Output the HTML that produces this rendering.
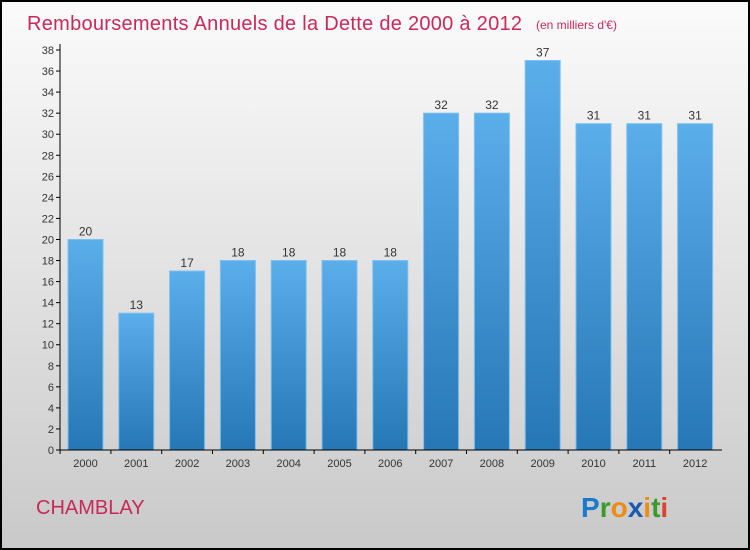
<!DOCTYPE html>
<html><head><meta charset="utf-8"><style>
body{margin:0;width:750px;height:550px;overflow:hidden}
svg{display:block}
text{font-family:"Liberation Sans",sans-serif}
</style></head><body>
<svg id="c" width="750" height="550" xmlns="http://www.w3.org/2000/svg">
<defs>
<linearGradient id="bg" x1="0" y1="0" x2="0" y2="1"><stop offset="0" stop-color="#fbfbfb"/><stop offset="1" stop-color="#c9c9c9"/></linearGradient>
<linearGradient id="bar" x1="0" y1="0" x2="0" y2="1"><stop offset="0" stop-color="#5aaeea"/><stop offset="1" stop-color="#2677b5"/></linearGradient>
</defs>
<rect x="1" y="1" width="748" height="548" fill="url(#bg)" stroke="#000" stroke-width="2"/>
<text x="27" y="30" font-size="20" fill="#c8285a" textLength="495">Remboursements Annuels de la Dette de 2000 à 2012</text>
<text x="536" y="29" font-size="12" fill="#c8285a">(en milliers d'€)</text>
<text x="36" y="514" font-size="20" fill="#c8285a">CHAMBLAY</text>
<g font-size="28" font-weight="bold" font-family="DejaVu Sans">
<text x="581" y="517"><tspan fill="#1a7ad0">P</tspan><tspan fill="#3a9a2a">r</tspan><tspan fill="#f08a10">o</tspan><tspan fill="#1a5ab0">x</tspan><tspan fill="#f08a10">i</tspan><tspan fill="#3a9a2a">t</tspan><tspan fill="#e04030">i</tspan></text>
</g>
<g id="plot"></g>
</svg>
<script>
const years=["2000","2001","2002","2003","2004","2005","2006","2007","2008","2009","2010","2011","2012"];
const values=[20,13,17,18,18,18,18,32,32,37,31,31,31];
const yTicks=[0,2,4,6,8,10,12,14,16,18,20,22,24,26,28,30,32,34,36,38];
const NS="http://www.w3.org/2000/svg";
const g=document.getElementById('plot');
const y0=450,yTop=50,yMax=38,x0=60,x1=722;
const y=v=>y0-(v/yMax)*(y0-yTop);
const step=50.8,bw=35,firstC=85.5;
const xc=i=>firstC+i*step;
function el(t,a){const e=document.createElementNS(NS,t);for(const k in a)e.setAttribute(k,a[k]);g.appendChild(e);return e;}
yTicks.forEach(t=>{
 const l=el('line',{x1:x0-4,x2:x0,y1:y(t),y2:y(t),stroke:'#000'});
 
 
 const tx=el('text',{x:x0-6,y:y(t)+4,'font-size':11,'text-anchor':'end',fill:'#333'});
 tx.textContent=t;
 
 
});
values.forEach((v,i)=>{
 const r=el('rect',{x:xc(i)-bw/2,y:y(v),width:bw,height:y0-y(v),fill:'url(#bar)',stroke:'#7cc0f0','stroke-width':1});
 
 
 const vt=el('text',{x:xc(i),y:y(v)-4,'font-size':12,'text-anchor':'middle',fill:'#333'});
 vt.textContent=v;
 
 
 const xt=el('text',{x:xc(i),y:y0+17,'font-size':11,'text-anchor':'middle',fill:'#333'});
 xt.textContent=years[i];
 
 
 const tk=el('line',{x1:xc(i)-step/2,x2:xc(i)-step/2,y1:y0,y2:y0+4,stroke:'#000'});
 
 
});
const ya=el('line',{x1:x0,x2:x0,y1:yTop-6,y2:y0,stroke:'#000'});


const xa=el('line',{x1:x0,x2:x1,y1:y0,y2:y0,stroke:'#000'});


</script>
</body></html>
